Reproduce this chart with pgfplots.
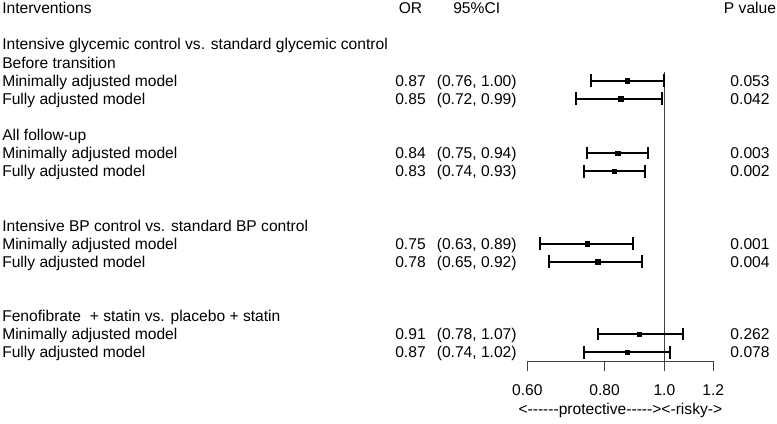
\documentclass[border=0pt]{standalone}
\usepackage{fontspec}
\setmainfont{Liberation Sans}
\usepackage{pgfplots}
\pgfplotsset{compat=1.18}
\newcommand\hy{-\kern0pt}
\begin{document}
\fontsize{11.7}{14}\selectfont
\begin{tikzpicture}
\begin{scope}[x=0.75pt,y=-0.75pt]
\useasboundingbox (0,0) rectangle (777,417);
\end{scope}
\begin{axis}[
  at={(395.55pt,-270.94pt)}, anchor=south west,
  scale only axis, width=139.4pt, height=217.2pt,
  xmode=log, xmin=0.6, xmax=1.2,
  ymin=3.5, ymax=19.5, y dir=reverse,
  axis x line*=bottom, axis y line=none,
  xtick={0.6,0.8,1,1.2}, xticklabels={0.60,0.80,1.0,1.2},
  minor xtick={}, minor tick num=0,
  xtick pos=bottom,
  tick align=outside, major tick length=7pt,
  x axis line style={black!75, line width=0.9pt, -},
  xtick style={draw=black!75, line width=0.9pt},
  /pgf/number format/assume math mode=true,
  xticklabel style={font=\fontsize{11.7}{14}\selectfont, yshift=-6.5pt},
  xlabel={<\hy\hy\hy\hy\hy\hy protective\hy\hy\hy\hy\hy>{}<\hy risky\hy>},
  xlabel style={font=\fontsize{11.7}{14}\selectfont, yshift=2.2pt},
  clip=false,
]
\addplot[black!75, line width=0.75pt] coordinates {(1,3.5) (1,19.5)};
\pgfplotsset{cistyle/.style={black, line width=1.5pt, mark=|, mark size=4.75pt, mark options={line width=1.5pt}}}
\addplot[cistyle] coordinates {(0.76,4) (1.00,4)};
\addplot[cistyle] coordinates {(0.72,5) (0.99,5)};
\addplot[cistyle] coordinates {(0.75,8) (0.94,8)};
\addplot[cistyle] coordinates {(0.74,9) (0.93,9)};
\addplot[cistyle] coordinates {(0.63,13) (0.89,13)};
\addplot[cistyle] coordinates {(0.65,14) (0.92,14)};
\addplot[cistyle] coordinates {(0.78,18) (1.07,18)};
\addplot[cistyle] coordinates {(0.74,19) (1.02,19)};
\addplot[only marks, mark=square*, mark size=1.7pt, black] coordinates {
  (0.87,4) (0.85,5) (0.84,8) (0.83,9) (0.75,13) (0.78,14) (0.91,18) (0.87,19)};
\draw[black!75, line width=0.9pt] (axis cs:0.6,19.5) -- ++(0pt,-7pt);
\draw[black!75, line width=0.9pt] (axis cs:0.8,19.5) -- ++(0pt,-7pt);
\draw[black!75, line width=0.9pt] (axis cs:1,19.5) -- ++(0pt,-7pt);
\draw[black!75, line width=0.9pt] (axis cs:1.2,19.5) -- ++(0pt,-7pt);
\end{axis}
\begin{scope}[x=0.75pt,y=-0.75pt, every node/.style={inner sep=0pt}]
% header
\node[anchor=base west] at (2,13.8) {Interventions};
\node[anchor=base] at (410.5,13.8) {OR};
\node[anchor=base] at (476.7,13.8) {95\%CI};
\node[anchor=base] at (750,13.8) {P value};
% left labels
\node[anchor=base west] at (2,50.0) {Intensive glycemic control vs. standard glycemic control};
\node[anchor=base west] at (2,68.1) {Before transition};
\node[anchor=base west] at (2,86.2) {Minimally adjusted model};
\node[anchor=base west] at (2,104.3) {Fully adjusted model};
\node[anchor=base west] at (2,140.5) {All follow-up};
\node[anchor=base west] at (2,158.6) {Minimally adjusted model};
\node[anchor=base west] at (2,176.7) {Fully adjusted model};
\node[anchor=base west] at (2,231.0) {Intensive BP control vs. standard BP control};
\node[anchor=base west] at (2,249.1) {Minimally adjusted model};
\node[anchor=base west] at (2,267.2) {Fully adjusted model};
\node[anchor=base west] at (2,321.5) {Fenofibrate~ + statin vs. placebo + statin};
\node[anchor=base west] at (2,339.6) {Minimally adjusted model};
\node[anchor=base west] at (2,357.7) {Fully adjusted model};
% OR
\node[anchor=base] at (410.5,86.2) {0.87};
\node[anchor=base] at (410.5,104.3) {0.85};
\node[anchor=base] at (410.5,158.6) {0.84};
\node[anchor=base] at (410.5,176.7) {0.83};
\node[anchor=base] at (410.5,249.1) {0.75};
\node[anchor=base] at (410.5,267.2) {0.78};
\node[anchor=base] at (410.5,339.6) {0.91};
\node[anchor=base] at (410.5,357.7) {0.87};
% CI
\node[anchor=base] at (476.7,86.2) {(0.76, 1.00)};
\node[anchor=base] at (476.7,104.3) {(0.72, 0.99)};
\node[anchor=base] at (476.7,158.6) {(0.75, 0.94)};
\node[anchor=base] at (476.7,176.7) {(0.74, 0.93)};
\node[anchor=base] at (476.7,249.1) {(0.63, 0.89)};
\node[anchor=base] at (476.7,267.2) {(0.65, 0.92)};
\node[anchor=base] at (476.7,339.6) {(0.78, 1.07)};
\node[anchor=base] at (476.7,357.7) {(0.74, 1.02)};
% P
\node[anchor=base] at (750,86.2) {0.053};
\node[anchor=base] at (750,104.3) {0.042};
\node[anchor=base] at (750,158.6) {0.003};
\node[anchor=base] at (750,176.7) {0.002};
\node[anchor=base] at (750,249.1) {0.001};
\node[anchor=base] at (750,267.2) {0.004};
\node[anchor=base] at (750,339.6) {0.262};
\node[anchor=base] at (750,357.7) {0.078};
\end{scope}
\end{tikzpicture}
\end{document}
